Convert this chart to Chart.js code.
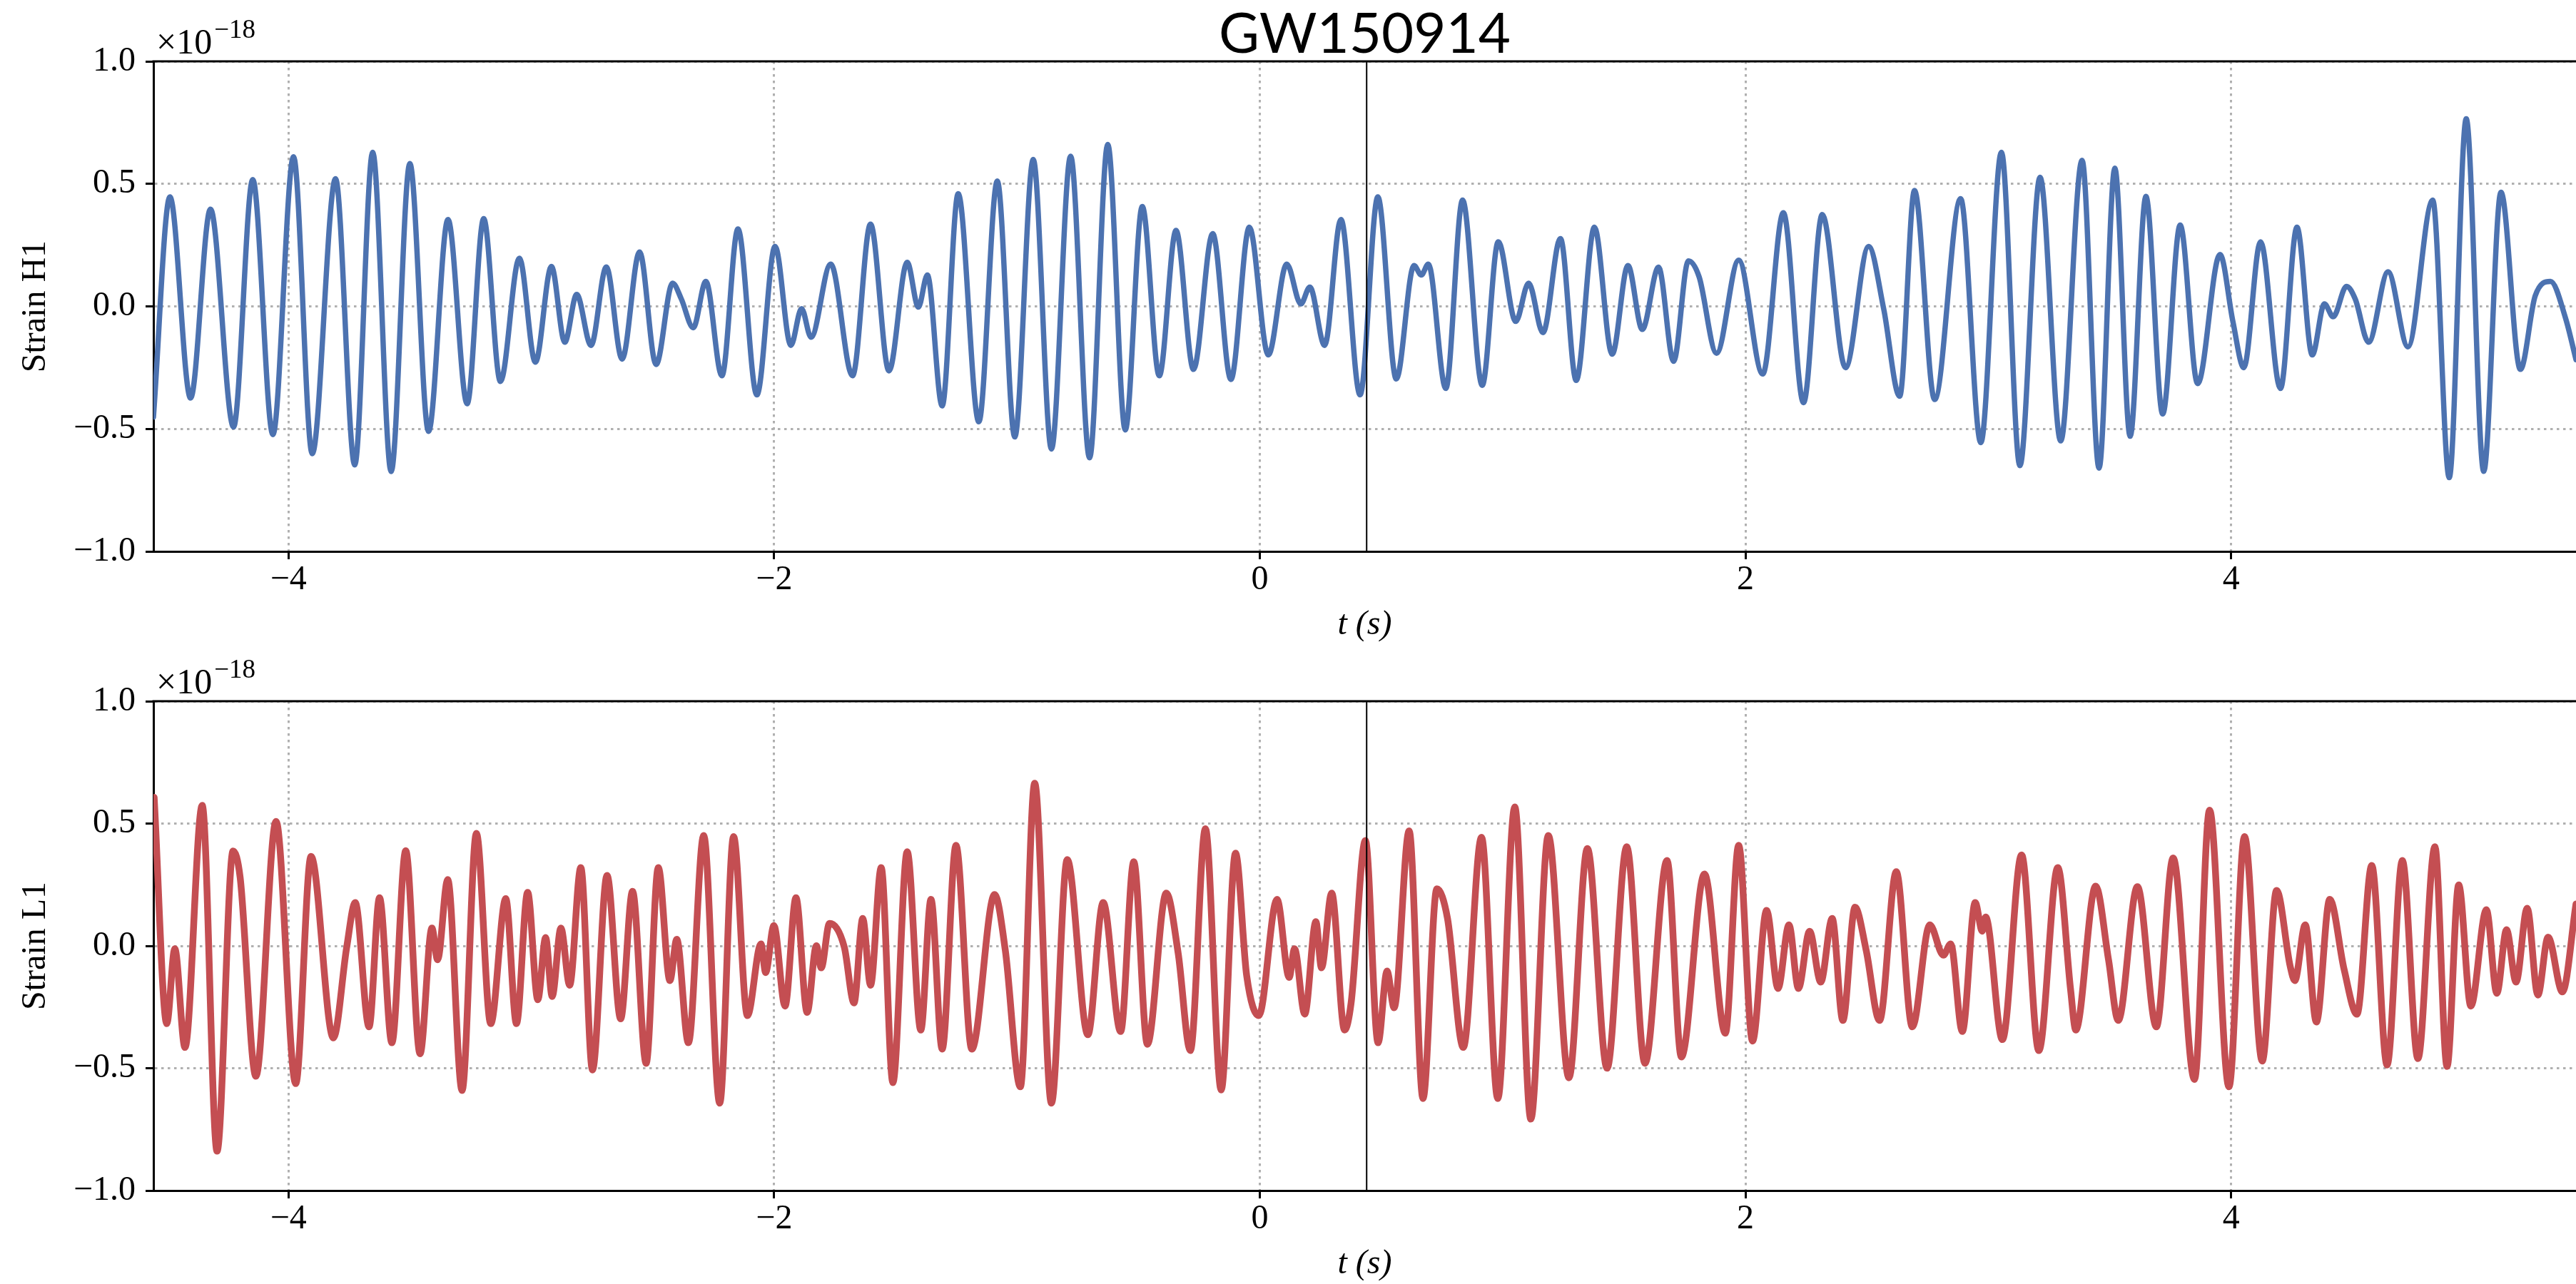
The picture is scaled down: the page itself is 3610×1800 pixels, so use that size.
<!DOCTYPE html>
<html>
<head>
<meta charset="utf-8">
<title>GW150914</title>
<script src="https://cdn.jsdelivr.net/npm/chart.js@4.4.1/dist/chart.umd.min.js"></script>
<style>
  html, body { margin: 0; padding: 0; background: #fff; }
  #wrap { position: relative; width: 3610px; height: 1800px; overflow: hidden; background: #fff; }
  canvas { position: absolute; left: 0; }
  #chart-h1 { top: 0; }
  #chart-l1 { top: 900px; }
</style>
</head>
<body>
<div id="wrap">
  <canvas id="chart-h1" width="3610" height="900"></canvas>
  <canvas id="chart-l1" width="3610" height="900"></canvas>
</div>
<script>
const TITLE = 'GW150914';
const EVENT_T = 0.44;
const X_MIN = -4.556;
const X_MAX = 5.42;
const OFFSET_BASE = '\u00d710';
const OFFSET_EXP = '\u221218';

const xTicks = [-4, -2, 0, 2, 4];
const xTickLabels = ['\u22124', '\u22122', '0', '2', '4'];
const yTicks = [-1, -0.5, 0, 0.5, 1];
const yTickLabels = ['\u22121.0', '\u22120.5', '0.0', '0.5', '1.0'];

// H1 strain (units of 1e-18) at peaks, troughs and kinks
const h1Time = [
  -4.556, -4.488, -4.403, -4.321, -4.226, -4.147, -4.064, -3.979, -3.902, -3.806,
  -3.727, -3.653, -3.577, -3.500, -3.423, -3.343, -3.264, -3.196, -3.127, -3.049,
  -2.983, -2.917, -2.862, -2.813, -2.754, -2.691, -2.626, -2.554, -2.486, -2.418,
  -2.382, -2.333, -2.281, -2.215, -2.149, -2.071, -1.996, -1.931, -1.887, -1.848,
  -1.767, -1.677, -1.603, -1.527, -1.452, -1.406, -1.369, -1.308, -1.242, -1.157,
  -1.081, -1.009, -0.933, -0.858, -0.779, -0.701, -0.626, -0.554, -0.484, -0.414,
  -0.345, -0.273, -0.194, -0.119, -0.043, 0.035, 0.111, 0.169, 0.206, 0.267,
  0.334, 0.413, 0.486, 0.562, 0.635, 0.665, 0.694, 0.766, 0.835, 0.916,
  0.982, 1.054, 1.107, 1.166, 1.238, 1.303, 1.378, 1.451, 1.516, 1.575,
  1.642, 1.704, 1.765, 1.809, 1.881, 1.972, 2.071, 2.156, 2.239, 2.316,
  2.412, 2.507, 2.569, 2.635, 2.696, 2.779, 2.886, 2.969, 3.054, 3.130,
  3.213, 3.298, 3.386, 3.456, 3.521, 3.584, 3.649, 3.718, 3.790, 3.862,
  3.954, 4.007, 4.052, 4.121, 4.203, 4.271, 4.334, 4.384, 4.420, 4.475,
  4.511, 4.566, 4.646, 4.728, 4.830, 4.898, 4.968, 5.040, 5.111, 5.191,
  5.252, 5.315, 5.377, 5.420
];
const h1Strain = [
  -0.452, 0.447, -0.374, 0.397, -0.492, 0.518, -0.523, 0.611, -0.601, 0.521,
  -0.647, 0.629, -0.674, 0.583, -0.510, 0.355, -0.397, 0.358, -0.306, 0.197,
  -0.228, 0.163, -0.146, 0.049, -0.159, 0.161, -0.215, 0.222, -0.237, 0.095,
  0.030, -0.087, 0.102, -0.283, 0.316, -0.361, 0.245, -0.159, -0.009, -0.126,
  0.173, -0.283, 0.336, -0.263, 0.180, -0.003, 0.128, -0.406, 0.460, -0.471,
  0.512, -0.533, 0.600, -0.582, 0.613, -0.618, 0.661, -0.504, 0.408, -0.283,
  0.310, -0.257, 0.297, -0.298, 0.323, -0.198, 0.173, 0.010, 0.079, -0.159,
  0.355, -0.361, 0.447, -0.296, 0.167, 0.128, 0.173, -0.335, 0.434, -0.322,
  0.264, -0.061, 0.095, -0.107, 0.277, -0.302, 0.323, -0.195, 0.167, -0.094,
  0.160, -0.224, 0.186, 0.121, -0.191, 0.189, -0.276, 0.382, -0.393, 0.375,
  -0.250, 0.245, -0.009, -0.367, 0.473, -0.380, 0.440, -0.556, 0.629, -0.650,
  0.527, -0.549, 0.596, -0.660, 0.564, -0.530, 0.449, -0.439, 0.332, -0.315,
  0.212, -0.061, -0.250, 0.264, -0.335, 0.323, -0.198, 0.010, -0.042, 0.082,
  0.030, -0.146, 0.141, -0.165, 0.434, -0.699, 0.766, -0.673, 0.466, -0.257,
  0.043, 0.102, -0.048, -0.217
];

// L1 strain (units of 1e-18)
const l1Time = [
  -4.553, -4.501, -4.468, -4.426, -4.355, -4.294, -4.228, -4.199, -4.134, -4.051,
  -3.970, -3.907, -3.815, -3.760, -3.725, -3.668, -3.625, -3.574, -3.517, -3.458,
  -3.409, -3.386, -3.344, -3.285, -3.226, -3.167, -3.105, -3.061, -3.015, -2.973,
  -2.941, -2.914, -2.878, -2.842, -2.796, -2.748, -2.688, -2.632, -2.583, -2.527,
  -2.477, -2.429, -2.401, -2.353, -2.290, -2.224, -2.167, -2.110, -2.054, -2.035,
  -2.001, -1.955, -1.910, -1.864, -1.826, -1.806, -1.772, -1.711, -1.671, -1.635,
  -1.603, -1.559, -1.511, -1.452, -1.396, -1.354, -1.308, -1.251, -1.186, -1.092,
  -1.048, -0.986, -0.927, -0.858, -0.793, -0.708, -0.645, -0.573, -0.519, -0.463,
  -0.385, -0.336, -0.286, -0.224, -0.159, -0.100, -0.054, -0.004, 0.071, 0.121,
  0.143, 0.185, 0.231, 0.254, 0.296, 0.349, 0.376, 0.435, 0.487, 0.524,
  0.553, 0.615, 0.672, 0.729, 0.773, 0.838, 0.913, 0.980, 1.050, 1.116,
  1.188, 1.273, 1.349, 1.430, 1.511, 1.586, 1.677, 1.736, 1.831, 1.917,
  1.972, 2.029, 2.087, 2.134, 2.179, 2.218, 2.264, 2.310, 2.357, 2.401,
  2.451, 2.497, 2.552, 2.621, 2.687, 2.759, 2.815, 2.845, 2.893, 2.946,
  2.975, 2.989, 3.058, 3.137, 3.208, 3.286, 3.339, 3.360, 3.442, 3.495,
  3.535, 3.614, 3.692, 3.761, 3.849, 3.911, 3.991, 4.055, 4.128, 4.187,
  4.243, 4.262, 4.305, 4.351, 4.406, 4.465, 4.518, 4.579, 4.642, 4.705,
  4.769, 4.839, 4.889, 4.937, 4.987, 5.051, 5.094, 5.134, 5.173, 5.219,
  5.263, 5.305, 5.364, 5.420
];
const l1Strain = [
  0.607, -0.318, -0.012, -0.415, 0.574, -0.839, 0.388, 0.281, -0.533, 0.509,
  -0.563, 0.366, -0.376, -0.005, 0.177, -0.331, 0.197, -0.396, 0.389, -0.441,
  0.073, -0.057, 0.271, -0.591, 0.460, -0.318, 0.193, -0.318, 0.219, -0.220,
  0.034, -0.207, 0.073, -0.161, 0.320, -0.507, 0.288, -0.298, 0.223, -0.480,
  0.320, -0.142, 0.027, -0.396, 0.451, -0.643, 0.447, -0.285, 0.008, -0.109,
  0.083, -0.246, 0.197, -0.272, 0.001, -0.090, 0.092, -0.005, -0.233, 0.112,
  -0.161, 0.320, -0.559, 0.385, -0.344, 0.190, -0.422, 0.411, -0.422, 0.210,
  -0.018, -0.576, 0.665, -0.643, 0.353, -0.363, 0.177, -0.350, 0.344, -0.402,
  0.216, -0.031, -0.428, 0.479, -0.589, 0.379, -0.122, -0.285, 0.190, -0.129,
  -0.012, -0.279, 0.099, -0.090, 0.216, -0.344, -0.233, 0.431, -0.396, -0.103,
  -0.253, 0.470, -0.624, 0.233, 0.112, -0.415, 0.444, -0.624, 0.568, -0.708,
  0.451, -0.539, 0.398, -0.500, 0.405, -0.480, 0.349, -0.454, 0.294, -0.357,
  0.411, -0.389, 0.145, -0.174, 0.086, -0.174, 0.060, -0.148, 0.112, -0.305,
  0.158, -0.018, -0.305, 0.303, -0.331, 0.086, -0.038, 0.008, -0.350, 0.177,
  0.060, 0.118, -0.383, 0.372, -0.428, 0.320, -0.181, -0.344, 0.244, -0.057,
  -0.305, 0.242, -0.331, 0.359, -0.546, 0.555, -0.576, 0.447, -0.471, 0.227,
  -0.083, -0.142, 0.086, -0.311, 0.190, -0.096, -0.279, 0.329, -0.487, 0.349,
  -0.461, 0.405, -0.493, 0.249, -0.246, 0.148, -0.194, 0.066, -0.148, 0.154,
  -0.201, 0.036, -0.188, 0.171
];

const SERIF = "'Liberation Serif', 'DejaVu Serif', serif";
const SANS = "Lato, 'Open Sans', sans-serif";
Chart.defaults.color = '#000';

// event marker, top spine and the x10^-18 offset label
const framePlugin = {
  id: 'frame',
  afterDatasetsDraw(chart) {
    const { ctx, chartArea: a, scales: { x } } = chart;
    const ex = x.getPixelForValue(EVENT_T);
    ctx.save();
    ctx.strokeStyle = '#000';
    ctx.lineWidth = 2;
    ctx.beginPath();
    ctx.moveTo(ex, a.top);
    ctx.lineTo(ex, a.bottom);
    ctx.stroke();
    ctx.lineWidth = 3;
    ctx.beginPath();
    ctx.moveTo(a.left - 1.5, a.top);
    ctx.lineTo(a.right, a.top);
    ctx.stroke();

    ctx.fillStyle = '#000';
    ctx.textAlign = 'left';
    ctx.textBaseline = 'alphabetic';
    ctx.font = `50px ${SERIF}`;
    const x0 = a.left + 4;
    ctx.fillText(OFFSET_BASE, x0, a.top - 11);
    const w = ctx.measureText(OFFSET_BASE).width;
    ctx.font = `37px ${SERIF}`;
    ctx.fillText(OFFSET_EXP, x0 + w + 3, a.top - 33);
    ctx.restore();
  }
};

function strainChart(id, times, strain, color, lineWidth, yLabel, cfg) {
  const points = times.map((t, i) => ({ x: t, y: strain[i] }));
  const grid = { color: '#b0b0b0', lineWidth: 3, drawTicks: true, tickLength: 11, tickColor: '#000', tickWidth: 3, tickBorderDash: [] };
  const border = { display: true, color: '#000', width: 3, dash: [3.5, 5.5] };

  return new Chart(document.getElementById(id), {
    type: 'line',
    data: {
      datasets: [{
        label: yLabel,
        data: points,
        borderColor: color,
        borderWidth: lineWidth,
        pointRadius: 0,
        fill: false,
        cubicInterpolationMode: 'monotone',
        borderJoinStyle: 'round',
        borderCapStyle: 'round',
      }]
    },
    options: {
      responsive: false,
      animation: false,
      devicePixelRatio: 1,
      events: [],
      layout: { padding: { top: cfg.padTop, left: 0, right: 0, bottom: 0 } },
      plugins: {
        legend: { display: false },
        tooltip: { enabled: false },
        title: {
          display: cfg.showTitle,
          text: TITLE,
          fullSize: false,
          color: '#000',
          font: { family: SANS, size: 78, weight: 'normal', lineHeight: 0.95 },
          padding: { top: 12, bottom: 0 }
        }
      },
      scales: {
        x: {
          type: 'linear',
          min: X_MIN,
          max: X_MAX,
          afterBuildTicks: s => { s.ticks = xTicks.map(v => ({ value: v })); },
          afterFit: s => { s.height = cfg.axisHeight; },
          ticks: {
            autoSkip: false,
            maxRotation: 0,
            padding: 1,
            font: { family: SERIF, size: 48 },
            callback: v => xTickLabels[xTicks.indexOf(v)]
          },
          grid,
          border,
          title: {
            display: true,
            text: 't (s)',
            font: { family: SERIF, size: 48, style: 'italic', lineHeight: 1 },
            padding: { top: 0, bottom: cfg.labelPad }
          }
        },
        y: {
          min: -1,
          max: 1,
          afterBuildTicks: s => { s.ticks = yTicks.map(v => ({ value: v })); },
          afterFit: s => { s.width = 215; },
          ticks: {
            padding: 14,
            font: { family: SERIF, size: 48 },
            callback: v => yTickLabels[yTicks.indexOf(v)]
          },
          grid,
          border,
          title: {
            display: true,
            text: yLabel,
            font: { family: SERIF, size: 48, lineHeight: 1 },
            padding: { top: 26, bottom: 0 }
          }
        }
      }
    },
    plugins: [framePlugin]
  });
}

strainChart('chart-h1', h1Time, h1Strain, '#4c72b0', 7.5, 'Strain H1',
  { showTitle: true, padTop: 0, axisHeight: 127, labelPad: 0 });
strainChart('chart-l1', l1Time, l1Strain, '#c44e52', 9.5, 'Strain L1',
  { showTitle: false, padTop: 83, axisHeight: 131, labelPad: 4 });
</script>
</body>
</html>
